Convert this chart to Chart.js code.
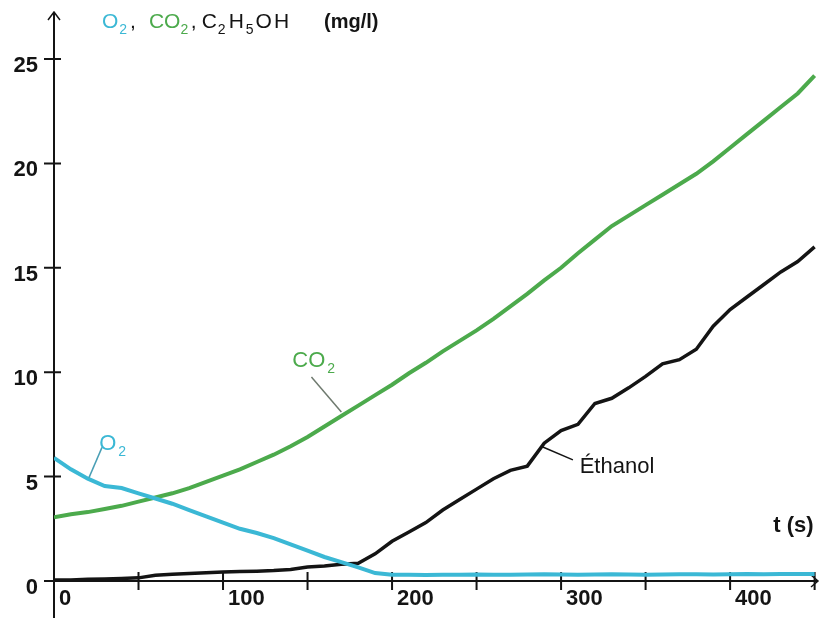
<!DOCTYPE html>
<html>
<head>
<meta charset="utf-8">
<script src="https://cdn.jsdelivr.net/npm/chart.js@4.4.0/dist/chart.umd.min.js"></script>
<style>
  html, body { margin: 0; padding: 0; background: #fff; }
</style>
</head>
<body>
<canvas id="chart" width="827" height="618"></canvas>
<script>
// temps (s), un point toutes les 10 s
const times = [0, 10, 20, 30, 40, 50, 60, 70, 80, 90, 100, 110, 120, 130, 140, 150, 160, 170, 180, 190,
  200, 210, 220, 230, 240, 250, 260, 270, 280, 290, 300, 310, 320, 330, 340, 350, 360, 370, 380, 390,
  400, 410, 420, 430, 440, 450];

// concentrations en mg/l
const o2 = [5.9, 5.35, 4.9, 4.55, 4.45, 4.2, 3.95, 3.7, 3.4, 3.1, 2.8, 2.5, 2.3, 2.05, 1.75, 1.45, 1.15, 0.9, 0.65, 0.38,
  0.3, 0.3, 0.29, 0.3, 0.3, 0.31, 0.3, 0.3, 0.31, 0.32, 0.31, 0.3, 0.31, 0.32, 0.31, 0.3, 0.31, 0.32, 0.32, 0.31,
  0.32, 0.33, 0.32, 0.33, 0.33, 0.34];
const co2 = [3.05, 3.2, 3.3, 3.45, 3.6, 3.8, 4.0, 4.2, 4.45, 4.75, 5.05, 5.35, 5.7, 6.05, 6.45, 6.9, 7.4, 7.9, 8.4, 8.9,
  9.4, 9.95, 10.45, 11.0, 11.5, 12.0, 12.55, 13.15, 13.75, 14.4, 15.0, 15.7, 16.35, 17.0, 17.5, 18.0, 18.5, 19.0, 19.5, 20.1,
  20.75, 21.4, 22.05, 22.7, 23.35, 24.2];
const ethanol = [0.05, 0.05, 0.08, 0.1, 0.12, 0.15, 0.28, 0.32, 0.36, 0.4, 0.43, 0.45, 0.47, 0.5, 0.55, 0.67, 0.72, 0.8, 0.85, 1.3,
  1.9, 2.35, 2.8, 3.4, 3.9, 4.4, 4.9, 5.3, 5.5, 6.6, 7.2, 7.5, 8.5, 8.75, 9.25, 9.8, 10.4, 10.6, 11.1, 12.2,
  13.0, 13.6, 14.2, 14.8, 15.3, 16.0];

// graduations
const xTickValues = [0, 50, 100, 150, 200, 250, 300, 350, 400, 450];
const xLabelValues = [0, 100, 200, 300, 400];
const yTickValues = [0, 5, 10, 15, 20, 25];

const BLUE = "#3bb8d5";
const GREEN = "#4caa4c";
const BLACK = "#141414";
const FONT = "'Liberation Sans', Arial, sans-serif";

const toPoints = (values) => values.map((v, i) => ({ x: times[i], y: v }));

// écrit un texte avec indices (ex: CO2)
function drawRich(ctx, parts, x, y) {
  parts.forEach((p) => {
    const size = p.sub ? 14 : p.size || 21;
    ctx.font = (p.bold ? "bold " : "") + size + "px " + FONT;
    ctx.fillStyle = p.color || BLACK;
    ctx.fillText(p.t, x, p.sub ? y + 6 : y);
    x += ctx.measureText(p.t).width + (p.gap === undefined ? 2 : p.gap);
  });
}

const axesPlugin = {
  id: "axes",
  beforeDatasetsDraw(chart) {
    const { ctx, scales: { x, y } } = chart;
    const x0 = x.getPixelForValue(0);
    const y0 = y.getPixelForValue(0);
    ctx.save();
    ctx.strokeStyle = BLACK;
    ctx.lineWidth = 2;
    ctx.beginPath();
    ctx.moveTo(x0, chart.height);
    ctx.lineTo(x0, y.top);
    ctx.moveTo(x0, y0);
    ctx.lineTo(x.right, y0);
    // graduations qui traversent les axes
    yTickValues.forEach((v) => {
      const py = y.getPixelForValue(v);
      ctx.moveTo(x0 - 10, py);
      ctx.lineTo(x0 + 7, py);
    });
    xTickValues.forEach((v) => {
      if (v === 0) return;
      const px = x.getPixelForValue(v);
      ctx.moveTo(px, y0 - 9);
      ctx.lineTo(px, y0 + 9);
    });
    ctx.stroke();
    // flèches
    ctx.lineWidth = 1.5;
    ctx.beginPath();
    ctx.moveTo(x0 - 6, y.top + 8);
    ctx.lineTo(x0, y.top);
    ctx.lineTo(x0 + 6, y.top + 8);
    ctx.moveTo(x.right - 7, y0 - 6);
    ctx.lineTo(x.right, y0);
    ctx.lineTo(x.right - 7, y0 + 6);
    ctx.stroke();
    ctx.restore();
  },
  afterDraw(chart) {
    const { ctx, scales: { x, y } } = chart;
    const px = (v) => x.getPixelForValue(v);
    const py = (v) => y.getPixelForValue(v);
    ctx.save();
    ctx.textBaseline = "alphabetic";
    ctx.textAlign = "left";

    // titre de l'axe vertical
    drawRich(ctx, [
      { t: "O", color: BLUE, gap: 1 },
      { t: "2", color: BLUE, sub: true, gap: 3 },
      { t: ",", gap: 13 },
      { t: "CO", color: GREEN, gap: 0 },
      { t: "2", color: GREEN, sub: true, gap: 2.6 },
      { t: ",", gap: 5 },
      { t: "C", gap: 1 },
      { t: "2", sub: true, gap: 3 },
      { t: "H", gap: 2 },
      { t: "5", sub: true, gap: 2 },
      { t: "O", gap: 2 },
      { t: "H", gap: 35 },
      { t: "(mg/l)", bold: true, size: 20 },
    ], px(28.4), py(26.5));

    // étiquettes des courbes avec leurs traits
    ctx.lineWidth = 1.5;
    ctx.strokeStyle = "#4a9fb5";
    ctx.beginPath();
    ctx.moveTo(px(28.4), py(6.4));
    ctx.lineTo(px(20.7), py(4.95));
    ctx.stroke();
    drawRich(ctx, [{ t: "O", color: BLUE, size: 22 }, { t: "2", color: BLUE, sub: true }], px(26.7), py(6.27));

    ctx.strokeStyle = "#6f7a6f";
    ctx.beginPath();
    ctx.moveTo(px(152.3), py(9.77));
    ctx.lineTo(px(170), py(8.09));
    ctx.stroke();
    drawRich(ctx, [{ t: "CO", color: GREEN, size: 22 }, { t: "2", color: GREEN, sub: true }], px(141), py(10.25));

    ctx.strokeStyle = BLACK;
    ctx.beginPath();
    ctx.moveTo(px(289.2), py(6.42));
    ctx.lineTo(px(307), py(5.8));
    ctx.stroke();
    drawRich(ctx, [{ t: "Éthanol", size: 22 }], px(311), py(5.17));

    // titre de l'axe horizontal
    drawRich(ctx, [{ t: "t (s)", bold: true, size: 22 }], px(425.5), py(2.35));
    ctx.restore();
  },
};

new Chart(document.getElementById("chart"), {
  type: "line",
  data: {
    datasets: [
      { label: "O2", data: toPoints(o2), borderColor: BLUE, borderWidth: 4 },
      { label: "CO2", data: toPoints(co2), borderColor: GREEN, borderWidth: 4 },
      { label: "Éthanol", data: toPoints(ethanol), borderColor: BLACK, borderWidth: 3.5 },
    ],
  },
  options: {
    responsive: false,
    animation: false,
    events: [],
    layout: { padding: { top: 12, right: 9, left: 0, bottom: 0 } },
    elements: { point: { radius: 0 }, line: { tension: 0 } },
    plugins: { legend: { display: false }, tooltip: { enabled: false } },
    scales: {
      x: {
        type: "linear",
        min: 0,
        max: 452,
        border: { display: false },
        grid: { display: false, drawTicks: false },
        afterBuildTicks: (scale) => { scale.ticks = xTickValues.map((v) => ({ value: v })); },
        afterFit: (scale) => {
          scale.height = 37;
          scale.paddingLeft = 0;
          scale.paddingRight = 0;
        },
        ticks: {
          autoSkip: false,
          maxRotation: 0,
          align: "start",
          labelOffset: 5,
          padding: 5,
          color: BLACK,
          font: { family: FONT, size: 22, weight: "bold" },
          callback: (v) => (xLabelValues.includes(v) ? String(v) : ""),
        },
      },
      y: {
        min: 0,
        max: 27.25,
        border: { display: false },
        grid: { display: false, drawTicks: false },
        afterBuildTicks: (scale) => { scale.ticks = yTickValues.map((v) => ({ value: v })); },
        afterFit: (scale) => {
          scale.width = 54;
          scale.paddingTop = 0;
          scale.paddingBottom = 0;
        },
        ticks: {
          autoSkip: false,
          padding: 16,
          labelOffset: 7,
          color: BLACK,
          font: { family: FONT, size: 22, weight: "bold" },
          callback: (v) => String(v),
        },
      },
    },
  },
  plugins: [axesPlugin],
});
</script>
</body>
</html>
